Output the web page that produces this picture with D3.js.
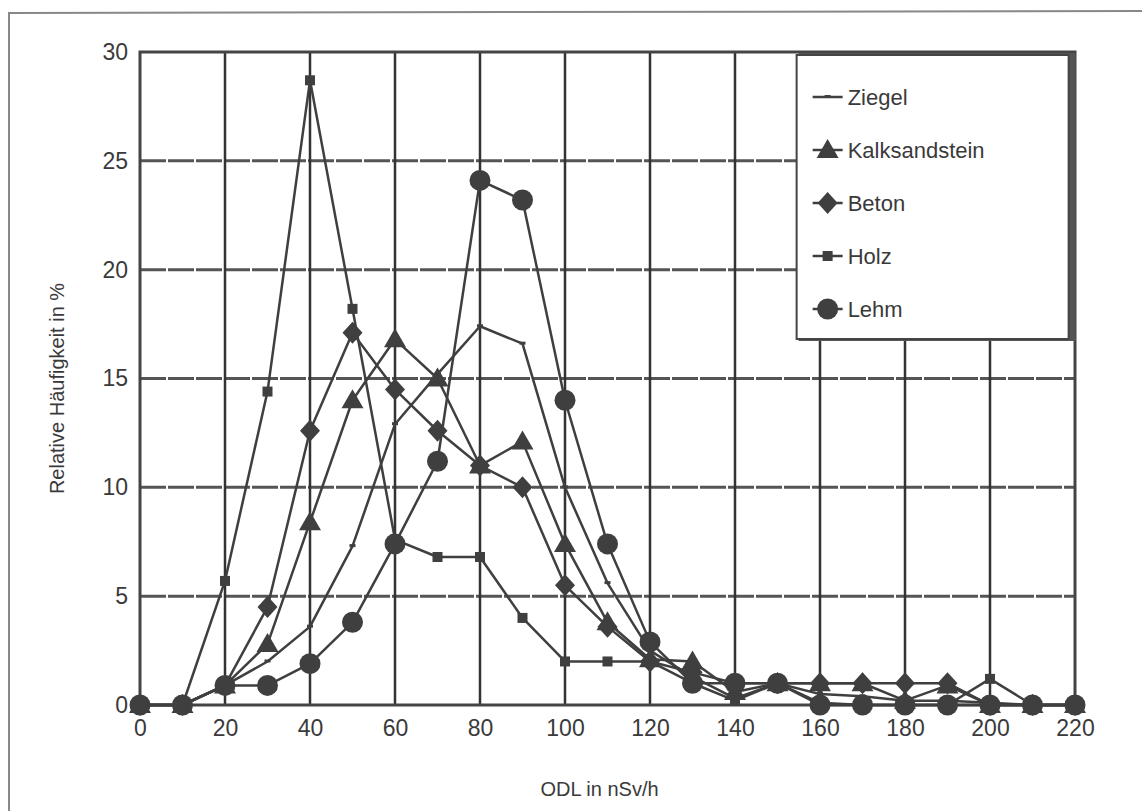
<!DOCTYPE html>
<html lang="de">
<head>
  <meta charset="UTF-8">
  <title>ODL Häufigkeit</title>
  <script src="https://d3js.org/d3.v7.min.js"></script>
  <style>
    body { margin: 0; background: #fff; }
    text { font-family: "Liberation Sans", Arial, sans-serif; fill: #3a3a3a; }
  </style>
</head>
<body>
  <div id="chart"></div>
  <script>
    // ODL classes (nSv/h)
    const odl = [0, 10, 20, 30, 40, 50, 60, 70, 80, 90, 100, 110, 120, 130, 140, 150, 160, 170, 180, 190, 200, 210, 220];

    // relative frequency in % per building material
    const ziegel = [0, 0, 0.9, 2.0, 3.6, 7.3, 12.9, 15.2, 17.4, 16.6, 10.0, 5.6, 2.5, 1.3, 0.3, 1.0, 0.5, 0.4, 0.2, 0.2, 0.1, 0, 0];
    const kalksandstein = [0, 0, 0.9, 2.8, 8.4, 14.0, 16.8, 15.0, 11.0, 12.1, 7.4, 3.8, 2.1, 2.0, 0.6, 1.0, 1.0, 1.0, 0.2, 0.9, 0, 0, 0];
    const beton = [0, 0, 0.9, 4.5, 12.6, 17.1, 14.5, 12.6, 11.0, 10.0, 5.5, 3.6, 2.0, 1.5, 1.0, 1.0, 1.0, 1.0, 1.0, 1.0, 0, 0, 0];
    const holz = [0, 0, 5.7, 14.4, 28.7, 18.2, 7.6, 6.8, 6.8, 4.0, 2.0, 2.0, 2.0, 1.0, 0.2, 1.0, 0.1, 0, 0, 0, 1.2, 0, 0];
    const lehm = [0, 0, 0.9, 0.9, 1.9, 3.8, 7.4, 11.2, 24.1, 23.2, 14.0, 7.4, 2.9, 1.0, 1.0, 1.0, 0, 0, 0, 0, 0, 0, 0];

    const xTicks = [0, 20, 40, 60, 80, 100, 120, 140, 160, 180, 200, 220];
    const yTicks = [0, 5, 10, 15, 20, 25, 30];

    const seriesNames = ["Ziegel", "Kalksandstein", "Beton", "Holz", "Lehm"];
    const seriesValues = [ziegel, kalksandstein, beton, holz, lehm];
    const seriesMarkers = ["dash", "triangle", "diamond", "square", "circle"];

    const W = 1142, H = 811;
    const margin = { top: 52, right: 67, bottom: 106, left: 140 };
    const width = W - margin.left - margin.right;
    const height = H - margin.top - margin.bottom;
    const ink = "#3f3f3f";

    const root = d3.select("#chart").append("svg")
      .attr("width", W)
      .attr("height", H);

    // scanned page frame
    root.append("path")
      .attr("d", `M9,${H} L9,13 L${W},11`)
      .attr("fill", "none")
      .attr("stroke", "#888")
      .attr("stroke-width", 2);

    const svg = root.append("g")
      .attr("transform", `translate(${margin.left},${margin.top})`);

    const x = d3.scaleLinear().domain([0, 220]).range([0, width]);
    const y = d3.scaleLinear().domain([0, 30]).range([height, 0]);

    // horizontal grid (dashed look of the scan)
    svg.append("g")
      .selectAll("line")
      .data(yTicks.filter(d => d > 0 && d < 30))
      .join("line")
      .attr("x1", 0).attr("x2", width)
      .attr("y1", d => y(d)).attr("y2", d => y(d))
      .attr("stroke", "#555")
      .attr("stroke-width", 3)
      .attr("stroke-dasharray", "26,2");

    // vertical grid
    svg.append("g")
      .selectAll("line")
      .data(xTicks.filter(d => d > 0 && d < 220))
      .join("line")
      .attr("x1", d => x(d)).attr("x2", d => x(d))
      .attr("y1", 0).attr("y2", height)
      .attr("stroke", "#333")
      .attr("stroke-width", 2.5);

    // plot frame
    svg.append("rect")
      .attr("width", width)
      .attr("height", height)
      .attr("fill", "none")
      .attr("stroke", "#444")
      .attr("stroke-width", 3);

    // axes (labels only)
    const xAxis = svg.append("g")
      .attr("transform", `translate(0,${height})`)
      .call(d3.axisBottom(x).tickValues(xTicks).tickSize(0).tickPadding(15));
    xAxis.select(".domain").remove();
    xAxis.selectAll("text")
      .attr("font-size", 23)
      .style("font-family", "Liberation Sans, Arial, sans-serif")
      .attr("fill", "#3a3a3a");

    const yAxis = svg.append("g")
      .call(d3.axisLeft(y).tickValues(yTicks).tickSize(0).tickPadding(12));
    yAxis.select(".domain").remove();
    yAxis.selectAll("text")
      .attr("font-size", 23)
      .style("font-family", "Liberation Sans, Arial, sans-serif")
      .attr("fill", "#3a3a3a");

    // axis titles
    svg.append("text")
      .attr("x", x(110) - 8)
      .attr("y", height + 91)
      .attr("text-anchor", "middle")
      .attr("font-size", 20)
      .text("ODL in nSv/h");

    svg.append("text")
      .attr("transform", `translate(${-76},${y(15) + 10}) rotate(-90)`)
      .attr("text-anchor", "middle")
      .attr("font-size", 20)
      .text("Relative Häufigkeit in %");

    // marker drawing
    function drawMarker(g, type, cx, cy) {
      if (type === "circle") {
        g.append("circle").attr("cx", cx).attr("cy", cy).attr("r", 10.5).attr("fill", ink);
      } else if (type === "square") {
        g.append("rect").attr("x", cx - 5).attr("y", cy - 5).attr("width", 10).attr("height", 10).attr("fill", ink);
      } else if (type === "diamond") {
        g.append("path").attr("d", "M0,-11L10,0L0,11L-10,0Z").attr("transform", `translate(${cx},${cy})`).attr("fill", ink);
      } else if (type === "triangle") {
        g.append("path").attr("d", "M0,-11L11,8L-11,8Z").attr("transform", `translate(${cx},${cy})`).attr("fill", ink);
      } else {
        g.append("rect").attr("x", cx - 3).attr("y", cy - 2).attr("width", 6).attr("height", 3).attr("fill", ink);
      }
    }

    const line = d3.line()
      .x((d, i) => x(odl[i]))
      .y(d => y(d));

    seriesValues.forEach((vals, k) => {
      const g = svg.append("g");
      g.append("path")
        .datum(vals)
        .attr("d", line)
        .attr("fill", "none")
        .attr("stroke", ink)
        .attr("stroke-width", 2.5)
        .attr("stroke-linejoin", "round");
      vals.forEach((v, i) => drawMarker(g, seriesMarkers[k], x(odl[i]), y(v)));
    });

    // legend
    const legend = svg.append("g").attr("transform", `translate(${x(154.5)},${3})`);
    legend.append("rect")
      .attr("x", 2).attr("y", -2)
      .attr("width", 277).attr("height", 288)
      .attr("fill", "#555");
    legend.append("rect")
      .attr("width", 272).attr("height", 284)
      .attr("fill", "#fff")
      .attr("stroke", "#444")
      .attr("stroke-width", 2);

    seriesNames.forEach((name, k) => {
      const ly = 42 + k * 53;
      const row = legend.append("g");
      row.append("line")
        .attr("x1", 16).attr("x2", 46)
        .attr("y1", ly).attr("y2", ly)
        .attr("stroke", ink).attr("stroke-width", 2.5);
      drawMarker(row, seriesMarkers[k], 31, ly);
      row.append("text")
        .attr("x", 51)
        .attr("y", ly + 8)
        .attr("font-size", 22)
        .text(name);
    });
  </script>
</body>
</html>
